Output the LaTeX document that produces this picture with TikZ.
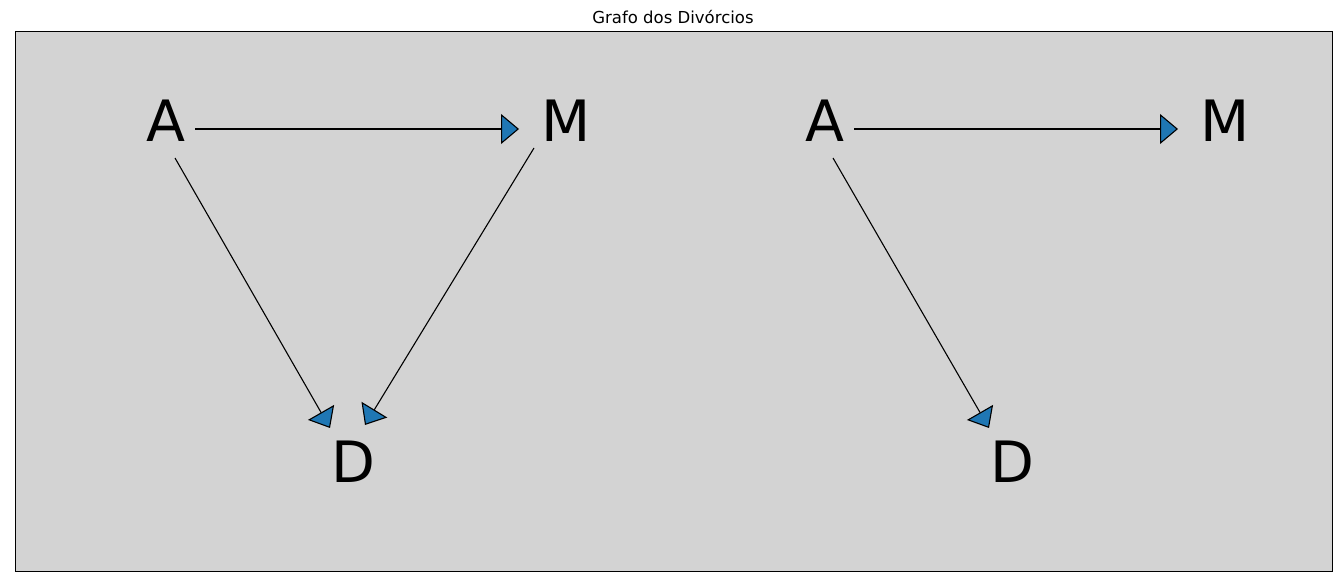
\documentclass[tikz,border=0pt]{standalone}
\usepackage{fontspec}
\setmainfont{DejaVu Sans}
\usetikzlibrary{arrows.meta}
\definecolor{panel}{HTML}{D3D3D3}
\definecolor{tipblue}{HTML}{1F77B4}
\tikzset{
  lbl/.style={inner sep=0pt, font=\fontsize{57}{60}\selectfont},
  edge/.style={draw=black, line width=1.1pt, -{Triangle[length=18pt,width=30pt,fill=tipblue,line width=1.1pt]}},
}
\begin{document}
\begin{tikzpicture}[x=1pt,y=-1pt]
\useasboundingbox[fill=white] (0,0) rectangle (1342,586);
\draw[fill=panel, line width=1pt] (15,32) rectangle (1332,571);
\node[inner sep=0pt, font=\fontsize{16.5}{18}\selectfont] (title) at (673,17) {Grafo dos Divórcios};
% left graph
\node[lbl] (A1) at (166,121) {A};
\node[lbl] (M1) at (566,121) {M};
\node[lbl] (D1) at (353,461.5) {D};
\coordinate (a1m) at (195,129);
\coordinate (m1a) at (519,129);
\coordinate (a1d) at (175,158);
\coordinate (d1a) at (330,428);
\coordinate (m1d) at (534,148);
\coordinate (d1m) at (365,425);
\draw[edge] (a1m) -- (m1a);
\draw[edge] (a1d) -- (d1a);
\draw[edge] (m1d) -- (d1m);
% right graph
\node[lbl] (A2) at (825,121) {A};
\node[lbl] (M2) at (1225,121) {M};
\node[lbl] (D2) at (1012,461.5) {D};
\coordinate (a2m) at (854,129);
\coordinate (m2a) at (1178,129);
\coordinate (a2d) at (833,158);
\coordinate (d2a) at (989,428);
\draw[edge] (a2m) -- (m2a);
\draw[edge] (a2d) -- (d2a);
\end{tikzpicture}
\end{document}
